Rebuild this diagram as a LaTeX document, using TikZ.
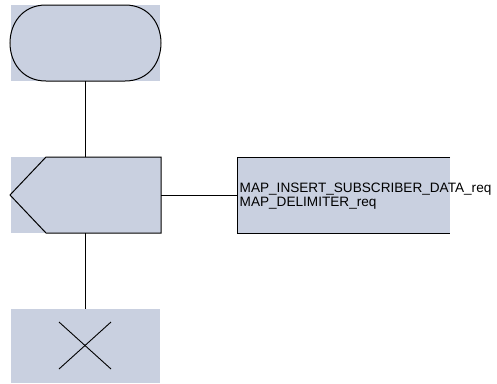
\documentclass[tikz,border=0pt]{standalone}
\usepackage{fontspec}
\setmainfont{Liberation Sans}
\definecolor{boxfill}{RGB}{201,208,224}
\begin{document}
\begin{tikzpicture}[x=1pt,y=-1pt,
  edge/.style={draw=black,line width=0.9pt},
  shapeline/.style={draw=black,line width=1pt},
  bg/.style={fill=boxfill,draw=none}]
\useasboundingbox (0,0) rectangle (497,383);
% start
\fill[boxfill] (11,5) rectangle (160,81);
\draw[shapeline] (46,5) -- (125,5) .. controls (173,5) and (173,81) .. (125,81) -- (46,81) .. controls (-2,81) and (-2,5) .. (46,5) -- cycle;
\coordinate (startb) at (85,81);
% input
\fill[boxfill] (11,157) rectangle (161,233);
\draw[shapeline] (46,157) -- (161,157) -- (161,233) -- (46,233) -- (10,195) -- cycle;
\coordinate (int) at (85,157);
\coordinate (inb) at (85,233);
\coordinate (inr) at (161,195);
% text box
\fill[boxfill] (237,157) rectangle (450,233);
\draw[shapeline] (450,157) -- (237,157) -- (237,233) -- (450,233);
\coordinate (txl) at (237,195);
\node[anchor=north west,inner sep=0pt,align=left,font=\fontsize{13.6}{14.5}\selectfont] (txt) at (239.5,182.5) {MAP\_INSERT\_SUBSCRIBER\_DATA\_req\\MAP\_DELIMITER\_req};
% stop
\fill[boxfill] (11,309) rectangle (160,383);
\coordinate (stopt) at (85,309);
\draw[edge] (59,322) -- (111,369);
\draw[edge] (111,322) -- (59,369);
% connectors
\draw[edge] (startb) -- (int);
\draw[edge] (inr) -- (txl);
\draw[edge] (inb) -- (stopt);
\end{tikzpicture}
\end{document}
